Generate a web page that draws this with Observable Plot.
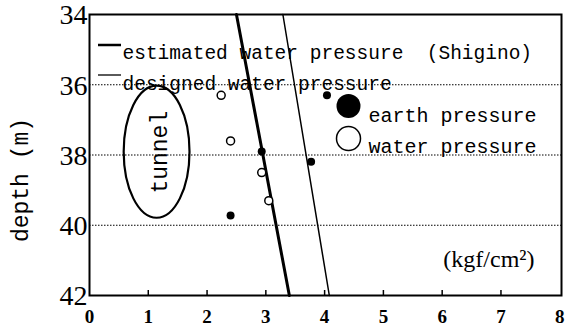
<!DOCTYPE html>
<html>
<head>
<meta charset="utf-8">
<script src="https://cdn.jsdelivr.net/npm/d3@7"></script>
<script src="https://cdn.jsdelivr.net/npm/@observablehq/plot@0.6"></script>
<style>
  html, body { margin: 0; padding: 0; background: #fff; }
  #chart svg { display: block; }
</style>
</head>
<body>
<div id="chart"></div>
<script>
// ---- data ----
const xTicks = [0, 1, 2, 3, 4, 5, 6, 7, 8];
const yTicks = [34, 36, 38, 40, 42];
const gridDepths = [36, 38, 40];

const estimatedX = [2.50, 3.40];
const estimatedDepth = [34, 42];
const designedX = [3.29, 4.08];
const designedDepth = [34, 42];

const earthX = [4.04, 2.93, 3.77, 2.40];
const earthDepth = [36.3, 37.9, 38.19, 39.72];
const waterX = [2.24, 2.40, 2.93, 3.05];
const waterDepth = [36.3, 37.6, 38.5, 39.3];

const tunnelLabel = "tunnel";
const tunnelCenterX = 1.15, tunnelCenterDepth = 37.92;
const tunnelHalfWidth = 0.56, tunnelHalfDepth = 1.88;

const legendLabels = ["estimated water pressure\u00A0\u00A0(Shigino)", "designed water pressure"];
const pointLabels = ["earth pressure", "water pressure"];
const yLabel = "depth (m)";
const unitLabel = "(kgf/cm\u00B2)";

// ---- tables ----
const estimated = estimatedX.map((x, i) => ({x, depth: estimatedDepth[i]}));
const designed = designedX.map((x, i) => ({x, depth: designedDepth[i]}));
const earth = earthX.map((x, i) => ({x, depth: earthDepth[i]}));
const water = waterX.map((x, i) => ({x, depth: waterDepth[i]}));

const mono = "'Liberation Mono', 'DejaVu Sans Mono', monospace";
const serif = "'Liberation Serif', 'DejaVu Serif', serif";

const plot = Plot.plot({
  width: 567,
  height: 334,
  marginLeft: 89,
  marginRight: 6,
  marginTop: 14,
  marginBottom: 39,
  style: {background: "#fff", color: "#000", fontFamily: serif},
  x: {domain: [0, 8.03], axis: null},
  y: {domain: [34, 42], reverse: true, axis: null},
  marks: [
    Plot.ruleY(gridDepths, {stroke: "#000", strokeWidth: 1.2, strokeDasharray: "1.5,1.5"}),
    // legend swatches for points
    Plot.dot([0], {frameAnchor: "top-left", dx: 259, dy: 91.5, r: 12, fill: "#000"}),
    Plot.dot([0], {frameAnchor: "top-left", dx: 259, dy: 124, r: 12, stroke: "#000", strokeWidth: 1.5, fill: "#fff"}),
    Plot.text([pointLabels[0]], {frameAnchor: "top-left", dx: 279, dy: 93, text: d => d, textAnchor: "start", fontFamily: mono, fontSize: 20}),
    Plot.text([pointLabels[1]], {frameAnchor: "top-left", dx: 279, dy: 124.5, text: d => d, textAnchor: "start", fontFamily: mono, fontSize: 20}),
    // line legend text
    Plot.text([legendLabels[0]], {frameAnchor: "top-left", dx: 33, dy: 31, text: d => d, textAnchor: "start", fontFamily: mono, fontSize: 19.5}),
    Plot.text([legendLabels[1]], {frameAnchor: "top-left", dx: 33, dy: 61.5, text: d => d, textAnchor: "start", fontFamily: mono, fontSize: 19.5}),
    // pressure lines
    Plot.line(estimated, {x: "x", y: "depth", stroke: "#000", strokeWidth: 3}),
    Plot.line(designed, {x: "x", y: "depth", stroke: "#000", strokeWidth: 1.5}),
    // measured points
    Plot.dot(earth, {x: "x", y: "depth", r: 4, fill: "#000"}),
    Plot.dot(water, {x: "x", y: "depth", r: 4, stroke: "#000", strokeWidth: 1.5, fill: "#fff"}),
    // tunnel label
    Plot.text([tunnelLabel], {x: tunnelCenterX, y: tunnelCenterDepth, dx: 3, text: d => d, rotate: -90, fontFamily: mono, fontSize: 23}),
    // unit
    Plot.text([unitLabel], {frameAnchor: "bottom-right", dx: -27, dy: -29, text: d => d, textAnchor: "end", fontFamily: serif, fontSize: 24}),
    // x ticks (inward) and tick labels
    Plot.ruleX(xTicks.slice(1, -1), {stroke: "#000", strokeWidth: 1.5, insetTop: 276}),
    Plot.text(xTicks, {x: d => d, frameAnchor: "bottom", dy: 27, text: d => String(d), fontFamily: serif, fontWeight: "bold", fontSize: 19}),
    // y tick labels
    Plot.text(yTicks, {y: d => d, frameAnchor: "left", dx: -2, dy: 1, textAnchor: "end", text: d => String(d), fontFamily: serif, fontSize: 28}),
    Plot.frame({stroke: "#000", strokeWidth: 2})
  ]
});

// ellipse for tunnel and line-legend segments, positioned with the plot's scales
const sx = plot.scale("x"), sy = plot.scale("y");
const svg = d3.select(plot);
const cx = sx.apply(tunnelCenterX), cy = sy.apply(tunnelCenterDepth);
const rx = sx.apply(tunnelCenterX + tunnelHalfWidth) - cx;
const ry = sy.apply(tunnelCenterDepth + tunnelHalfDepth) - cy;
svg.append("ellipse")
  .attr("cx", cx).attr("cy", cy).attr("rx", rx).attr("ry", ry)
  .attr("fill", "none").attr("stroke", "#000").attr("stroke-width", 2.2);
svg.append("line").attr("x1", 98).attr("x2", 121).attr("y1", 45).attr("y2", 45)
  .attr("stroke", "#000").attr("stroke-width", 2.5);
svg.append("line").attr("x1", 98).attr("x2", 121).attr("y1", 75).attr("y2", 75)
  .attr("stroke", "#000").attr("stroke-width", 1.3);
svg.append("text")
  .attr("transform", `translate(21,${180}) rotate(-90)`)
  .attr("text-anchor", "middle").attr("dy", "0.32em")
  .attr("font-family", mono).attr("font-size", 23).attr("fill", "#000")
  .text(yLabel);

document.getElementById("chart").appendChild(plot);
</script>
</body>
</html>
